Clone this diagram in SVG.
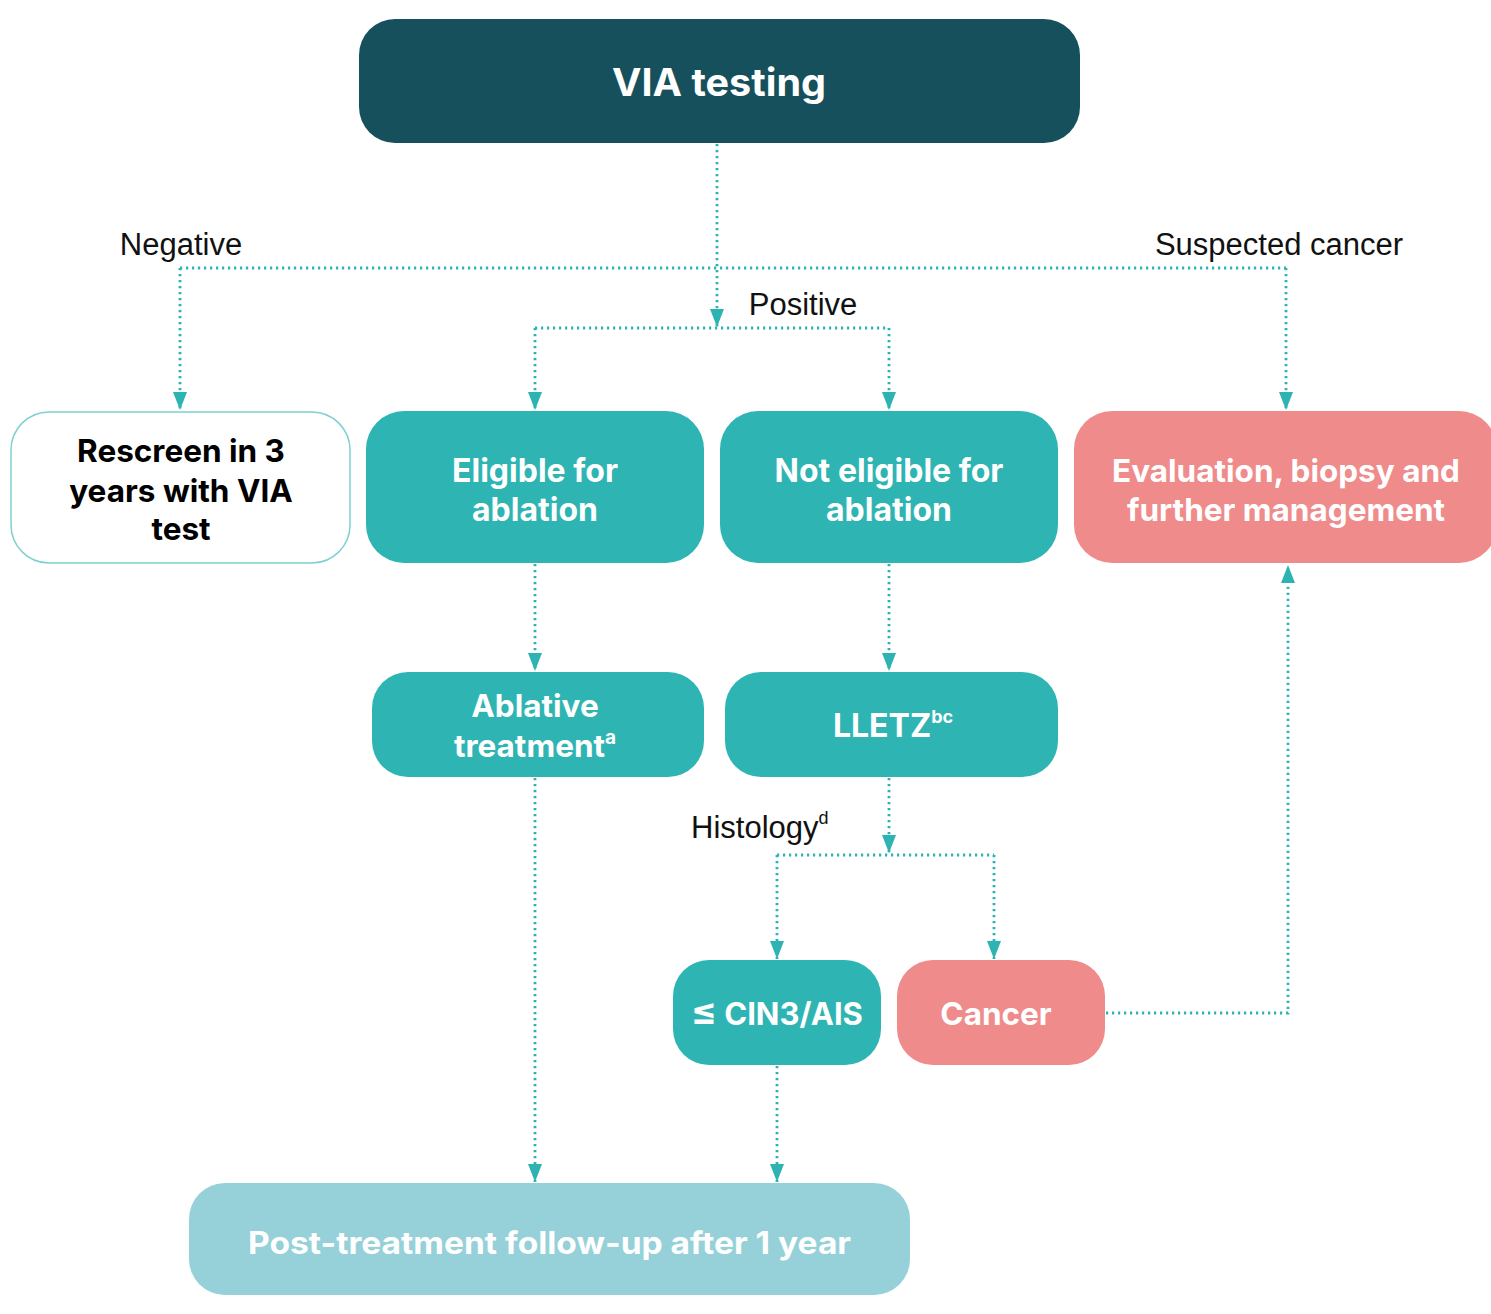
<svg xmlns="http://www.w3.org/2000/svg" width="1491" height="1314" viewBox="0 0 1491 1314">
<style>
.conn{fill:none;stroke:#2eb3b3;stroke-width:2.8;stroke-dasharray:2.2 3.8}
.nt{font-family:Inter,Roboto,"Liberation Sans",sans-serif;font-weight:700;fill:#fff;text-anchor:middle}
.lbl{font-family:"Liberation Sans",Arial,sans-serif;font-size:31px;fill:#111}
.teal{fill:#2eb5b3}
.pink{fill:#ef8b8b}
</style>
<defs>
<marker id="ah" markerUnits="userSpaceOnUse" markerWidth="18" markerHeight="14" refX="18" refY="7" orient="auto">
<path d="M0,0 L18,7 L0,14 z" fill="#2eb3b3"/>
</marker>
</defs>
<rect width="1491" height="1314" fill="#fff"/>
<g id="connectors">
<path class="conn" d="M717,144 V327" marker-end="url(#ah)"/>
<path class="conn" d="M180,268 H1286"/>
<path class="conn" d="M180,268 V410" marker-end="url(#ah)"/>
<path class="conn" d="M1286,268 V410" marker-end="url(#ah)"/>
<path class="conn" d="M535,328 H889"/>
<path class="conn" d="M535,328 V410" marker-end="url(#ah)"/>
<path class="conn" d="M889,328 V410" marker-end="url(#ah)"/>
<path class="conn" d="M535,564 V671" marker-end="url(#ah)"/>
<path class="conn" d="M889,564 V671" marker-end="url(#ah)"/>
<path class="conn" d="M889,778 V853" marker-end="url(#ah)"/>
<path class="conn" d="M777,855 H994"/>
<path class="conn" d="M777,855 V959" marker-end="url(#ah)"/>
<path class="conn" d="M994,855 V959" marker-end="url(#ah)"/>
<path class="conn" d="M1106,1013 H1288 V565" marker-end="url(#ah)"/>
<path class="conn" d="M535,778 V1182" marker-end="url(#ah)"/>
<path class="conn" d="M777,1066 V1182" marker-end="url(#ah)"/>
</g>
<g id="labels">
<text class="lbl" x="181" y="255" text-anchor="middle">Negative</text>
<text class="lbl" x="1279" y="255" text-anchor="middle">Suspected cancer</text>
<text class="lbl" x="803" y="315" text-anchor="middle">Positive</text>
<text class="lbl" x="691" y="838">Histology<tspan font-size="18" dy="-14">d</tspan></text>
</g>
<g id="via">
<rect x="359" y="19" width="721" height="124" rx="36" fill="#17505d"/>
<text class="nt" x="719" y="96" font-size="38" textLength="214" lengthAdjust="spacingAndGlyphs">VIA testing</text>
</g>
<g id="rescreen">
<rect x="11" y="412" width="339" height="151" rx="38" fill="#fff" stroke="#7fd0cf" stroke-width="1.5"/>
<text class="nt" style="fill:#000" font-size="31.5" x="181" y="462">Rescreen in 3</text>
<text class="nt" style="fill:#000" font-size="31.5" x="181" y="502">years with VIA</text>
<text class="nt" style="fill:#000" font-size="31.5" x="181" y="540">test</text>
</g>
<g id="eligible">
<rect class="teal" x="366" y="411" width="338" height="152" rx="38"/>
<text class="nt" font-size="32" x="535" y="482">Eligible for</text>
<text class="nt" font-size="32" x="535" y="521">ablation</text>
</g>
<g id="noteligible">
<rect class="teal" x="720" y="411" width="338" height="152" rx="38"/>
<text class="nt" font-size="32" x="889" y="482">Not eligible for</text>
<text class="nt" font-size="32" x="889" y="521">ablation</text>
</g>
<g id="evaluation">
<rect class="pink" x="1074" y="411" width="423" height="152" rx="38"/>
<text class="nt" font-size="31.5" x="1286" y="482">Evaluation, biopsy and</text>
<text class="nt" font-size="31.5" x="1286" y="521">further management</text>
</g>
<g id="ablative">
<rect class="teal" x="372" y="672" width="332" height="105" rx="36"/>
<text class="nt" font-size="31.5" x="535" y="717">Ablative</text>
<text class="nt" font-size="31.5" x="535" y="757">treatment<tspan font-size="19" dy="-13">a</tspan></text>
</g>
<g id="lletz">
<rect class="teal" x="725" y="672" width="333" height="105" rx="36"/>
<text class="nt" font-size="32" x="893" y="737">LLETZ<tspan font-size="18" dy="-14">bc</tspan></text>
</g>
<g id="cin3">
<rect class="teal" x="673" y="960" width="208" height="105" rx="36"/>
<text class="nt" font-size="31" x="777" y="1025"><tspan font-size="38">≤</tspan> CIN3/AIS</text>
</g>
<g id="cancer">
<rect class="pink" x="897" y="960" width="208" height="105" rx="36"/>
<text class="nt" font-size="31.5" x="996" y="1025">Cancer</text>
</g>
<g id="followup">
<rect x="189" y="1183" width="721" height="112" rx="36" fill="#96d1d9"/>
<text class="nt" font-size="31" x="549.5" y="1254" textLength="603" lengthAdjust="spacingAndGlyphs">Post-treatment follow-up after 1 year</text>
</g>
</svg>
